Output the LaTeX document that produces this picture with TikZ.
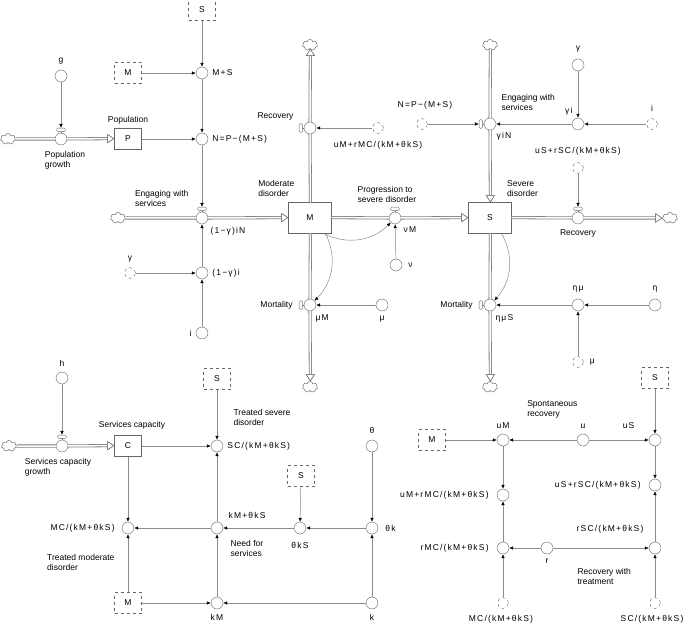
\documentclass[tikz,border=0pt]{standalone}
\usepackage{fontspec}
\setmainfont{Liberation Sans}
\newfontfamily\eqnfam[LetterSpace=14]{Liberation Sans}
\usetikzlibrary{positioning, arrows.meta, shapes.symbols}
\newcommand{\lblsize}{\fontsize{8.5}{10}\selectfont}
\newcommand{\eqnsize}{\eqnfam\fontsize{8.5}{10}\selectfont}

\begin{document}
\begin{tikzpicture}[x=1pt, y=-1pt,
stock/.style={rectangle, draw=black!60, fill=white, minimum width=43pt, minimum height=31pt, font=\lblsize},
small stock/.style={rectangle, draw=black!60, fill=white, minimum width=27pt, minimum height=21pt, font=\lblsize},
ghost/.style={small stock, dashed},
aux/.style={circle, draw=black!60, fill=white, minimum size=12pt, inner sep=0pt},
ghost aux/.style={aux, dashed, minimum size=11pt},
valve/.style={aux},
handle/.style={rectangle, rounded corners=1.5pt, draw=black!60, fill=white, minimum width=9pt, minimum height=3.5pt, inner sep=0pt},
vhandle/.style={handle, minimum width=3.5pt, minimum height=9pt},
cloudy/.style={cloud, cloud puffs=7, draw=black!70, fill=white, minimum width=15pt, minimum height=11pt, inner sep=0pt},
pipe/.style={draw=white, line width=1.5pt, preaction={draw=black!50, line width=3.1pt}},
pipeto/.style={pipe, -{Triangle[fill=white, color=black!60, length=7pt, width=9pt, line width=0.5pt]}},
link/.style={draw=black!45, line width=0.5pt, -{Latex[length=4pt, width=3.5pt, color=black]}},
lbl/.style={font=\lblsize, inner sep=1pt, align=left},
eqn/.style={font=\eqnsize, inner sep=1pt},
]
\useasboundingbox (0,0) rectangle (685,628);

% population and engaging with services
\node[ghost]       (sS1)  at (202,10)  {S};
\node[aux]         (MS)   at (202,73)  {};
\node[eqn]         (lMS)  [right=3pt of MS] {M+S};
\node[ghost]       (sM1)  at (128,73)  {M};
\node[aux]         (g)    at (61,76)   {};
\node[lbl]         (lg)   [above=4pt of g] {g};
\node[cloudy]      (cl1)  at (8,139)   {};
\node[valve]       (PG)   at (61,139)  {};
\node[handle]      (hPG)  [above=1pt of PG] {};
\node[lbl]         (lPG)  [below=5pt of PG, xshift=4pt] {Population\\growth};
\node[small stock] (P)    at (128,139) {P};
\node[lbl]         (lP)   [above=3pt of P] {Population};
\node[aux]         (N)    at (202,139) {};
\node[eqn]         (lN)   [right=3pt of N] {N=P−(M+S)};
\node[cloudy]      (cl2)  at (118,218) {};
\node[valve]       (EW1)  at (202,218) {};
\node[handle]      (hEW1) [above=1pt of EW1] {};
\node[lbl]         (lEW1) [above left=6pt and 8pt of EW1] {Engaging with\\services};
\node[eqn]         (lEW1f)[below right=4pt and 3pt of EW1] {(1−γ)iN};
\node[aux]         (gi1)  at (202,273) {};
\node[eqn]         (lgi1) [right=3pt of gi1] {(1−γ)i};
\node[ghost aux]   (gam1) at (130,273) {};
\node[lbl]         (lgam1)[above=4pt of gam1] {γ};
\node[aux]         (i1)   at (202,333) {};
\node[lbl]         (li1)  [left=3pt of i1] {i};

% moderate disorder
\node[stock]       (M)    at (310,218) {M};
\node[lbl]         (lM)   [above=5pt of M.north west, xshift=-12pt] {Moderate\\disorder};
\node[cloudy]      (cl3)  at (310,45)  {};
\node[valve]       (RM)   at (310,128) {};
\node[vhandle]     (hRM)  [left=1pt of RM] {};
\node[lbl]         (lRM)  [above left=2pt and 11pt of RM] {Recovery};
\node[ghost aux]   (dRM)  at (378,128) {};
\node[eqn]         (ldRM) [below=6pt of dRM] {uM+rMC/(kM+θkS)};
\node[ghost aux]   (dN2)  at (422,124) {};
\node[eqn]         (ldN2) [above=8pt of dN2, xshift=3pt] {N=P−(M+S)};
\node[valve]       (PS)   at (395,218) {};
\node[handle]      (hPS)  [above=1pt of PS] {};
\node[lbl]         (lPS)  [above=8pt of PS, xshift=-8pt] {Progression to\\severe disorder};
\node[eqn]         (lPSf) [below right=3pt and 3pt of PS] {νM};
\node[aux]         (nu)   at (396,265) {};
\node[lbl]         (lnu)  [right=5pt of nu] {ν};
\node[valve]       (MM)   at (310,305) {};
\node[vhandle]     (hMM)  [left=1pt of MM] {};
\node[lbl]         (lMM)  [left=10pt of MM] {Mortality};
\node[eqn]         (lMMf) [below right=4pt and 0pt of MM] {μM};
\node[aux]         (mu1)  at (382,305) {};
\node[lbl]         (lmu1) [below=4pt of mu1] {μ};
\node[cloudy]      (cl4)  at (310,387) {};

% severe disorder
\node[stock]       (S)    at (490,218) {S};
\node[lbl]         (lS)   [above right=5pt and 16pt of S.north] {Severe\\disorder};
\node[cloudy]      (cl5)  at (490,45)  {};
\node[valve]       (EW2)  at (490,124) {};
\node[vhandle]     (hEW2) [left=1pt of EW2] {};
\node[lbl]         (lEW2) [above right=8pt and 6pt of EW2] {Engaging with\\services};
\node[eqn]         (lEW2f)[below right=3pt and 1pt of EW2] {γiN};
\node[aux]         (gam2) at (578,65)  {};
\node[lbl]         (lgam2)[above=5pt of gam2] {γ};
\node[aux]         (gi2)  at (578,124) {};
\node[eqn]         (lgi2) [above left=3pt and 0pt of gi2] {γi};
\node[ghost aux]   (i2)   at (652,124) {};
\node[lbl]         (li2)  [above=6pt of i2] {i};
\node[ghost aux]   (dRS)  at (578,168) {};
\node[eqn]         (ldRS) [above=6pt of dRS] {uS+rSC/(kM+θkS)};
\node[valve]       (RS)   at (578,218) {};
\node[handle]      (hRS)  [above=1pt of RS] {};
\node[lbl]         (lRS)  [below=4pt of RS] {Recovery};
\node[cloudy]      (cl6)  at (670,218) {};
\node[valve]       (SM)   at (490,305) {};
\node[vhandle]     (hSM)  [left=1pt of SM] {};
\node[lbl]         (lSM)  [left=10pt of SM] {Mortality};
\node[eqn]         (lSMf) [below right=4pt and 0pt of SM] {ημS};
\node[aux]         (emu)  at (578,305) {};
\node[eqn]         (lemu) [above=5pt of emu] {ημ};
\node[aux]         (eta)  at (655,305) {};
\node[lbl]         (leta) [above=5pt of eta] {η};
\node[ghost aux]   (mu2)  at (578,362) {};
\node[lbl]         (lmu2) [right=5pt of mu2] {μ};
\node[cloudy]      (cl7)  at (490,387) {};

% services capacity
\node[aux]         (h)    at (62,378)  {};
\node[lbl]         (lh)   [above=4pt of h] {h};
\node[cloudy]      (cl8)  at (9,446)   {};
\node[valve]       (SG)   at (62,446)  {};
\node[handle]      (hSG)  [above=1pt of SG] {};
\node[lbl]         (lSG)  [below=5pt of SG, xshift=-4pt] {Services capacity\\growth};
\node[small stock] (C)    at (128,446) {C};
\node[lbl]         (lC)   [above=5pt of C, xshift=4pt] {Services capacity};
\node[ghost]       (sS2)  at (217,379) {S};
\node[aux]         (SC)   at (217,446) {};
\node[eqn]         (lSC)  [right=3pt of SC] {SC/(kM+θkS)};
\node[lbl]         (lTS)  [above right=15pt and 11pt of SC] {Treated severe\\disorder};
\node[aux]         (MC)   at (128,528) {};
\node[eqn]         (lMC)  [left=6pt of MC] {MC/(kM+θkS)};
\node[lbl]         (lTM)  [below left=21pt and 8pt of MC] {Treated moderate\\disorder};
\node[aux]         (KT)   at (217,528) {};
\node[eqn]         (lKT)  [above right=4pt and 6pt of KT] {kM+θkS};
\node[lbl]         (lNS)  [below right=7pt and 8pt of KT] {Need for\\services};
\node[ghost]       (sM2)  at (128,603) {M};
\node[aux]         (kM)   at (217,603) {};
\node[eqn]         (lkM)  [below=4pt of kM] {kM};
\node[ghost]       (sS3)  at (301,476) {S};
\node[aux]         (tkS)  at (300,528) {};
\node[eqn]         (ltkS) [below=7pt of tkS] {θkS};
\node[aux]         (th)   at (372,446) {};
\node[lbl]         (lth)  [above=5pt of th] {θ};
\node[aux]         (tk)   at (372,528) {};
\node[eqn]         (ltk)  [right=6pt of tk] {θk};
\node[aux]         (k)    at (372,603) {};
\node[lbl]         (lk)   [below=4pt of k] {k};

% recovery rates
\node[ghost]       (sS4)  at (655,378) {S};
\node[ghost]       (sM3)  at (432,440) {M};
\node[aux]         (uM)   at (503,440) {};
\node[eqn]         (luM)  [above=4pt of uM] {uM};
\node[aux]         (u)    at (583,440) {};
\node[lbl]         (lu)   [above=4pt of u] {u};
\node[aux]         (uS)   at (655,440) {};
\node[eqn]         (luS)  [above left=6pt and 15pt of uS] {uS};
\node[lbl]         (lSR)  [above left=16pt and 0pt of u] {Spontaneous\\recovery};
\node[aux]         (uMr)  at (503,495) {};
\node[eqn]         (luMr) [left=7pt of uMr] {uM+rMC/(kM+θkS)};
\node[aux]         (rM)   at (503,548) {};
\node[eqn]         (lrM)  [left=7pt of rM] {rMC/(kM+θkS)};
\node[aux]         (r)    at (547,548) {};
\node[lbl]         (lr)   [below=4pt of r] {r};
\node[aux]         (uSr)  at (655,485) {};
\node[eqn]         (luSr) [left=7pt of uSr] {uS+rSC/(kM+θkS)};
\node[aux]         (rS)   at (655,548) {};
\node[eqn]         (lrS)  [above left=9pt and 6pt of rS] {rSC/(kM+θkS)};
\node[lbl]         (lRT)  [below right=15pt and 25pt of r] {Recovery with\\treatment};
\node[ghost aux]   (dMC)  at (503,603) {};
\node[eqn]         (ldMC) [below=5pt of dMC, xshift=-2pt] {MC/(kM+θkS)};
\node[ghost aux]   (dSC)  at (655,603) {};
\node[eqn]         (ldSC) [below=5pt of dSC, xshift=-3pt] {SC/(kM+θkS)};

% flows (a hair off the axis so that the wide strokes render)
\draw[pipe]   (cl1) -- (PG);
\draw[pipeto] (PG) -- ([yshift=0.4pt]P.west);
\draw[pipe]   (cl2) -- (EW1);
\draw[pipeto] (EW1) -- ([yshift=0.4pt]M.west);
\draw[pipe]   ([xshift=0.4pt]M.north) -- (RM);
\draw[pipeto] (RM) -- ([xshift=0.4pt]cl3.south);
\draw[pipe]   ([yshift=0.4pt]M.east) -- (PS);
\draw[pipeto] (PS) -- ([yshift=0.4pt]S.west);
\draw[pipe]   ([xshift=0.4pt]M.south) -- (MM);
\draw[pipeto] (MM) -- ([xshift=0.4pt]cl4.north);
\draw[pipe]   ([xshift=0.4pt]cl5.south) -- (EW2);
\draw[pipeto] (EW2) -- ([xshift=0.4pt]S.north);
\draw[pipe]   ([yshift=0.4pt]S.east) -- (RS);
\draw[pipeto] (RS) -- (cl6);
\draw[pipe]   ([xshift=0.4pt]S.south) -- (SM);
\draw[pipeto] (SM) -- ([xshift=0.4pt]cl7.north);
\draw[pipe]   (cl8) -- (SG);
\draw[pipeto] (SG) -- ([yshift=0.4pt]C.west);

% valve stems
\draw[draw=black!60] (hPG) -- (PG);
\draw[draw=black!60] (hEW1) -- (EW1);
\draw[draw=black!60] (hRM) -- (RM);
\draw[draw=black!60] (hPS) -- (PS);
\draw[draw=black!60] (hMM) -- (MM);
\draw[draw=black!60] (hEW2) -- (EW2);
\draw[draw=black!60] (hRS) -- (RS);
\draw[draw=black!60] (hSM) -- (SM);
\draw[draw=black!60] (hSG) -- (SG);

% links
\draw[link] (sS1) -- (MS);
\draw[link] (sM1) -- (MS);
\draw[link] (MS) -- (N);
\draw[link] (P) -- (N);
\draw[link] (g) -- (hPG);
\draw[link] (N) -- (hEW1);
\draw[link] (gi1) -- (EW1);
\draw[link] (gam1) -- (gi1);
\draw[link] (i1) -- (gi1);

\draw[link] (dRM) -- (RM);
\draw[link] (nu) -- (PS);
\draw[link] (mu1) -- (MM);
\draw[link] ([xshift=-8pt]M.south east) to[bend right=35] (PS);
\draw[link] ([xshift=-6pt]M.south east) to[bend left=35] (MM);

\draw[link] (dN2) -- (hEW2);
\draw[link] (gi2) -- (EW2);
\draw[link] (gam2) -- (gi2);
\draw[link] (i2) -- (gi2);
\draw[link] (dRS) -- (hRS);
\draw[link] (emu) -- (SM);
\draw[link] (eta) -- (emu);
\draw[link] (mu2) -- (emu);
\draw[link] ([xshift=-10pt]S.south east) to[bend left=35] (SM);

\draw[link] (h) -- (hSG);
\draw[link] (sS2) -- (SC);
\draw[link] (C) -- (SC);
\draw[link] (C) -- (MC);
\draw[link] (KT) -- (MC);
\draw[link] (KT) -- (SC);
\draw[link] (sM2) -- (MC);
\draw[link] (sM2) -- (kM);
\draw[link] (kM) -- (KT);
\draw[link] (sS3) -- (tkS);
\draw[link] (tkS) -- (KT);
\draw[link] (th) -- (tk);
\draw[link] (tk) -- (tkS);
\draw[link] (k) -- (tk);
\draw[link] (k) -- (kM);

\draw[link] (sM3) -- (uM);
\draw[link] (u) -- (uM);
\draw[link] (u) -- (uS);
\draw[link] (sS4) -- (uS);
\draw[link] (uS) -- (uSr);
\draw[link] (uM) -- (uMr);
\draw[link] (rM) -- (uMr);
\draw[link] (r) -- (rM);
\draw[link] (r) -- (rS);
\draw[link] (rS) -- (uSr);
\draw[link] (dMC) -- (rM);
\draw[link] (dSC) -- (rS);

\end{tikzpicture}
\end{document}
